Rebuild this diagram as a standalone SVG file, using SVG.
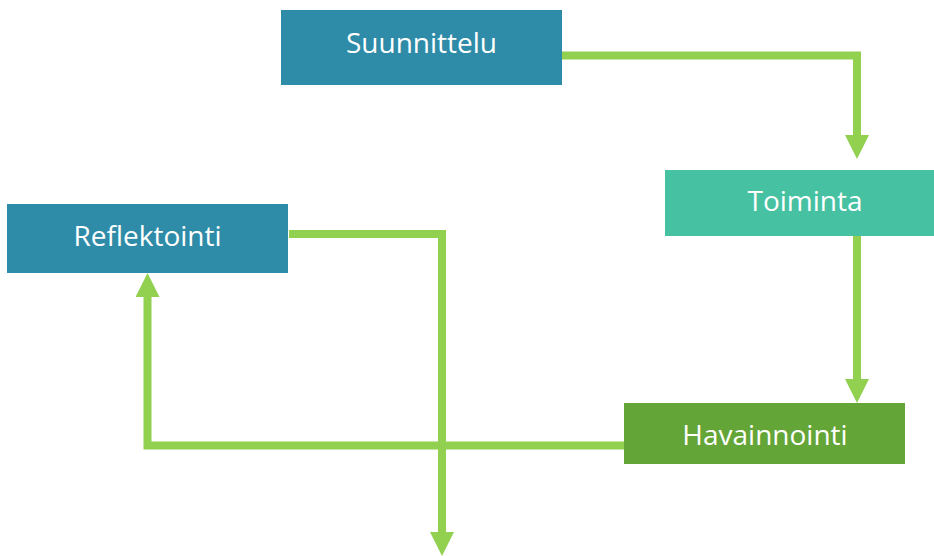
<svg xmlns="http://www.w3.org/2000/svg" width="934" height="556" viewBox="0 0 934 556">
  <style>
    .box-text { font-family: "Open Sans", "Noto Sans", "Liberation Sans", sans-serif; font-size: 28px; fill: #ffffff; text-anchor: middle; }
    .conn { fill: none; stroke: #92D050; stroke-width: 8; stroke-linejoin: miter; marker-end: url(#head); }
  </style>
  <defs>
    <marker id="head" viewBox="0 0 10 10" refX="0" refY="5" markerWidth="3" markerHeight="3" orient="auto" markerUnits="strokeWidth">
      <path d="M0,0 L10,5 L0,10 Z" fill="#92D050"/>
    </marker>
  </defs>
  <rect width="934" height="556" fill="#ffffff"/>

  <g id="connectors">
    <path class="conn" d="M562,55.5 H857 V135"/>
    <path class="conn" d="M857,236 V379"/>
    <path class="conn" d="M624,445.5 H147.5 V297"/>
    <path class="conn" d="M289,234 H442 V532"/>
  </g>

  <g id="suunnittelu">
    <rect x="281" y="10" width="281" height="75" fill="#2E8CA8"/>
    <text class="box-text" x="421.5" y="53">Suunnittelu</text>
  </g>
  <g id="toiminta">
    <rect x="665" y="170" width="269" height="66" fill="#46C1A2"/>
    <text class="box-text" x="805" y="211">Toiminta</text>
  </g>
  <g id="havainnointi">
    <rect x="624" y="403" width="281" height="61" fill="#64A537"/>
    <text class="box-text" x="765" y="445">Havainnointi</text>
  </g>
  <g id="reflektointi">
    <rect x="7" y="204" width="281" height="69" fill="#2E8CA8"/>
    <text class="box-text" x="147.5" y="246">Reflektointi</text>
  </g>
</svg>
